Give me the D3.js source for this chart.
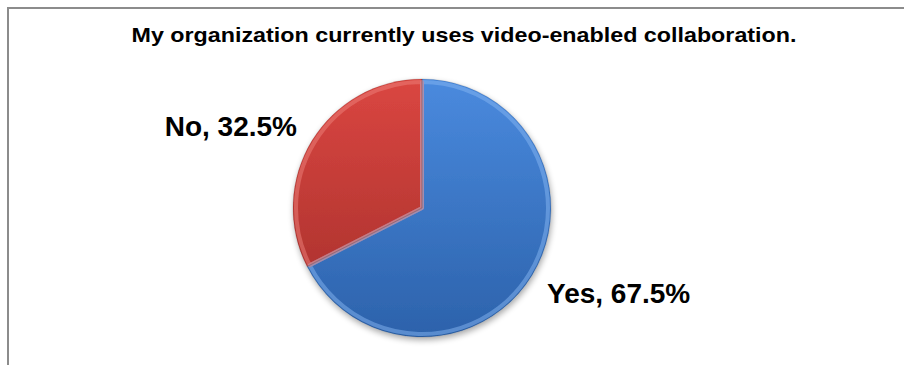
<!DOCTYPE html>
<html>
<head>
<meta charset="utf-8">
<script src="https://cdn.jsdelivr.net/npm/d3@7"></script>
<style>
  body { margin: 0; background: #fff; }
  text { font-family: "Liberation Sans", Arial, sans-serif; font-weight: bold; }
</style>
</head>
<body>
<svg width="904" height="365"></svg>
<script>
// pie data
var categories = ["Yes", "No"];
var values = [67.5, 32.5];
var title = "My organization currently uses video-enabled collaboration.";

var svgWidth = 904, svgHeight = 365;
var cx = 422, cy = 208, radius = 129;

var svg = d3.select("svg")
    .attr("width", svgWidth)
    .attr("height", svgHeight);

// frame (runs off right and bottom like the original)
svg.append("rect")
    .attr("x", 8).attr("y", 8)
    .attr("width", 1000).attr("height", 1000)
    .attr("fill", "#fff")
    .attr("stroke", "#8c8c8c")
    .attr("stroke-width", 2);

var defs = svg.append("defs");
var grads = [
    {id: "gBlue", top: "#4a8ade", bottom: "#2c62ab"},
    {id: "gRed", top: "#da4641", bottom: "#a32e2a"}
];
grads.forEach(function(g) {
    var lg = defs.append("linearGradient")
        .attr("id", g.id)
        .attr("gradientUnits", "userSpaceOnUse")
        .attr("x1", 0).attr("y1", -radius)
        .attr("x2", 0).attr("y2", radius);
    lg.append("stop").attr("offset", "0%").attr("stop-color", g.top);
    lg.append("stop").attr("offset", "100%").attr("stop-color", g.bottom);
});

// soft shadow
var f = defs.append("filter").attr("id", "shadow")
    .attr("x", "-20%").attr("y", "-20%").attr("width", "140%").attr("height", "140%");
f.append("feGaussianBlur").attr("in", "SourceAlpha").attr("stdDeviation", 3);
f.append("feOffset").attr("dx", 1).attr("dy", 3).attr("result", "b");
f.append("feComponentTransfer").append("feFuncA").attr("type", "linear").attr("slope", 0.35);
var m = f.append("feMerge");
m.append("feMergeNode");
m.append("feMergeNode").attr("in", "SourceGraphic");

var color = d3.scaleOrdinal()
    .domain(categories)
    .range(["url(#gBlue)", "url(#gRed)"]);
var edge = d3.scaleOrdinal()
    .domain(categories)
    .range(["#86b6f2", "#ee817b"]);

var pie = d3.pie().sort(null).value(function(d) { return d.value; });
var data = pie(categories.map(function(c, i) { return {cat: c, value: values[i]}; }));

var arc = d3.arc().innerRadius(0).outerRadius(radius);
var bevel = d3.arc().innerRadius(0).outerRadius(radius - 3);

var g = svg.append("g")
    .attr("transform", "translate(" + cx + "," + cy + ")");

g.append("g").attr("filter", "url(#shadow)")
    .selectAll("path")
    .data(data)
    .enter()
    .append("path")
    .attr("d", arc)
    .attr("fill", function(d) { return color(d.data.cat); });

// bevel highlight
g.selectAll("path.bevel")
    .data(data)
    .enter()
    .append("path")
    .attr("class", "bevel")
    .attr("d", bevel)
    .attr("fill", "none")
    .attr("stroke", function(d) { return edge(d.data.cat); })
    .attr("stroke-width", 4)
    .attr("stroke-opacity", 0.5)
    .attr("stroke-linejoin", "round");

g.selectAll("path.line")
    .data(data)
    .enter()
    .append("path")
    .attr("class", "line")
    .attr("d", arc)
    .attr("fill", "none")
    .attr("stroke", "rgba(0,0,0,0.15)")
    .attr("stroke-width", 0.8);

// title
svg.append("text")
    .attr("x", 464)
    .attr("y", 42)
    .attr("text-anchor", "middle")
    .attr("font-size", 21)
    .attr("textLength", 665)
    .attr("lengthAdjust", "spacingAndGlyphs")
    .attr("fill", "#000")
    .text(title);

// labels
var labelPos = [
    {x: 547, y: 303, anchor: "start"},
    {x: 297, y: 136, anchor: "end"}
];
svg.selectAll("text.lbl")
    .data(data)
    .enter()
    .append("text")
    .attr("class", "lbl")
    .attr("x", function(d, i) { return labelPos[i].x; })
    .attr("y", function(d, i) { return labelPos[i].y; })
    .attr("text-anchor", function(d, i) { return labelPos[i].anchor; })
    .attr("font-size", 28)
    .attr("fill", "#000")
    .text(function(d) { return d.data.cat + ", " + d.data.value.toFixed(1) + "%"; });
</script>
</body>
</html>
